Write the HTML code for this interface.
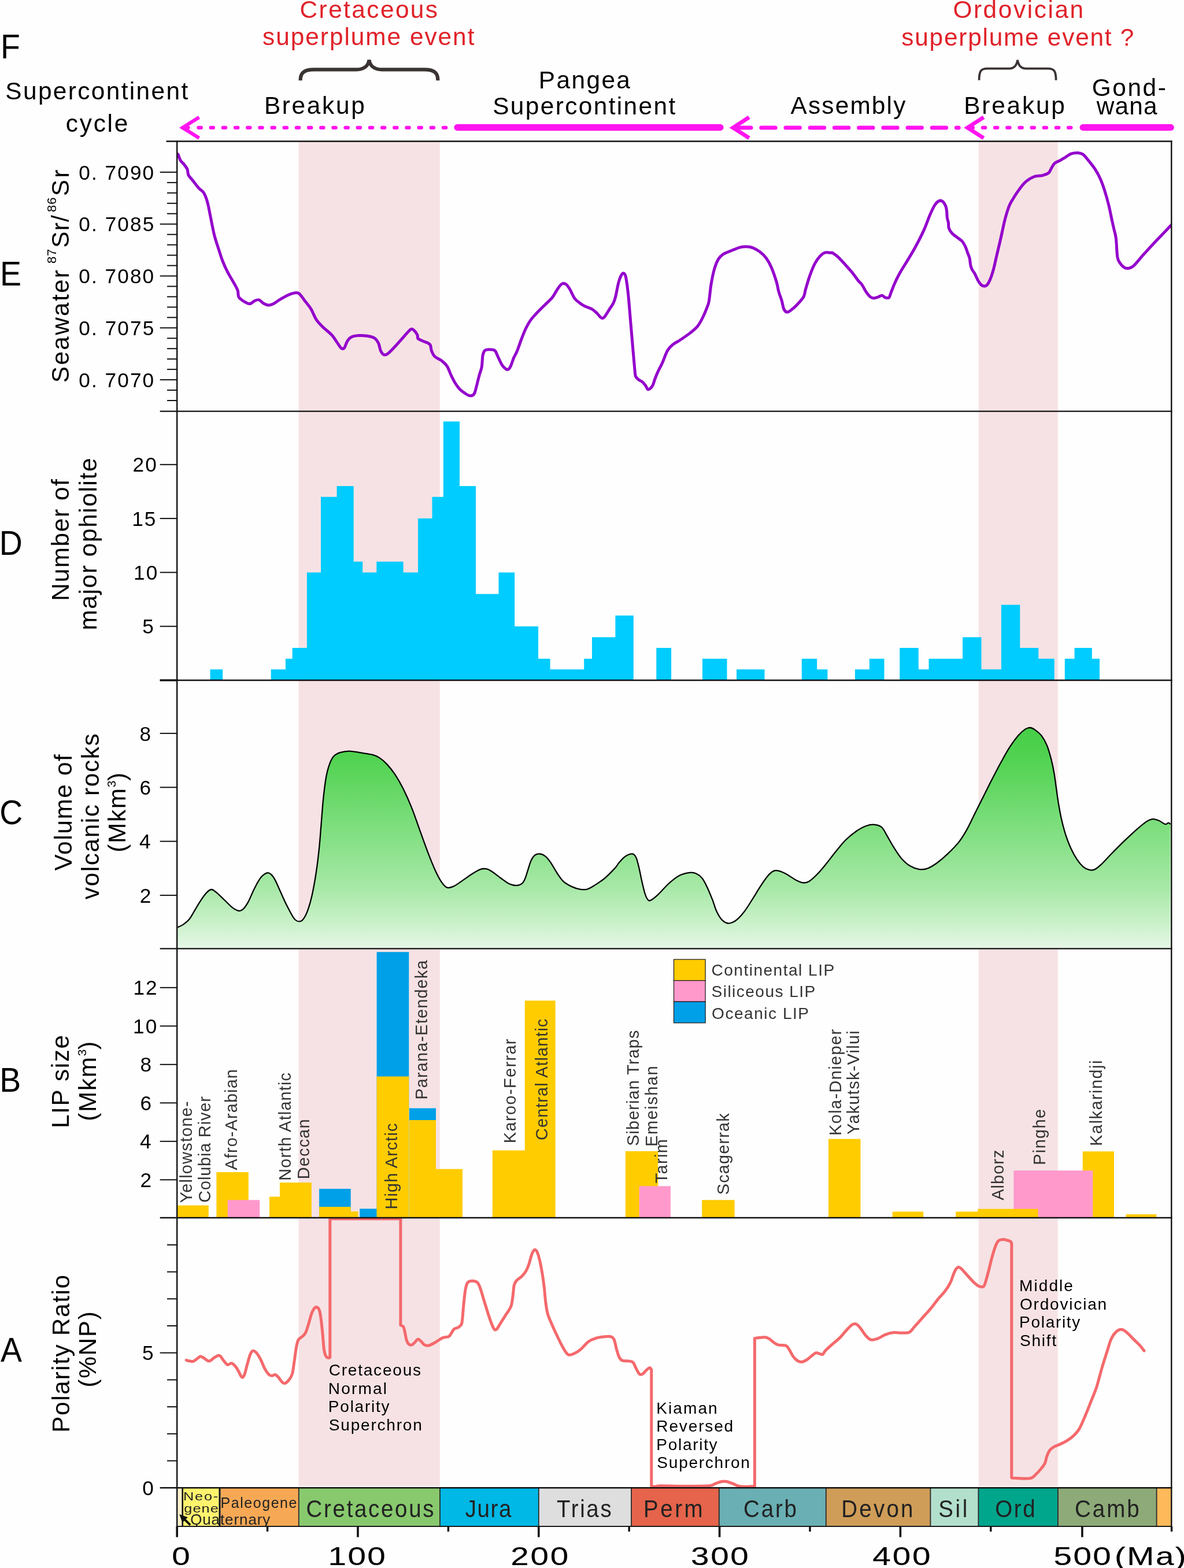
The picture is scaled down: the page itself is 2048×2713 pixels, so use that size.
<!DOCTYPE html>
<html lang="en">
<head>
<meta charset="utf-8">
<title>Supercontinent cycle and superplume events</title>
<style>
html,body{margin:0;padding:0;background:#fff;}
body{width:2048px;height:2713px;overflow:hidden;}
svg{display:block;font-family:'Liberation Sans', sans-serif;}
</style>
</head>
<body>
<svg width="2048" height="2713" viewBox="0 0 2048 2713">
<defs><linearGradient id="gv" gradientUnits="userSpaceOnUse" x1="0" y1="1258" x2="0" y2="1641"><stop offset="0" stop-color="#46ce46"/><stop offset="0.15" stop-color="#52d352"/><stop offset="0.5" stop-color="#85e085"/><stop offset="0.72" stop-color="#a6e8a6"/><stop offset="0.89" stop-color="#cbf1cb"/><stop offset="1" stop-color="#e6f7e6"/></linearGradient><clipPath id="pclip"><rect x="306.2" y="240" width="1720.1" height="2340"/></clipPath><clipPath id="tsclip"><rect x="300" y="2570" width="400" height="70.4"/></clipPath></defs>
<rect x="0" y="0" width="2048" height="2713" fill="#fefefe"/>
<rect x="516.4" y="244.5" width="244.4" height="2327" fill="#f6e2e4"/>
<rect x="1692.6" y="244.5" width="137.1" height="2327" fill="#f6e2e4"/>
<path d="M363.6,1177H385.2V1158.3H363.6ZM468.7,1177H493.9V1158.3H468.7ZM493.9,1177H505.7V1139.7H493.9ZM505.7,1177H530.9V1121H505.7ZM530.9,1177H555V990.4H530.9ZM555,1177H582.6V859.8H555ZM582.6,1177H611.7V841.1H582.6ZM611.7,1177H627.2V971.7H611.7ZM627.2,1177H651.3V990.4H627.2ZM651.3,1177H697.6V971.7H651.3ZM697.6,1177H723.1V990.4H697.6ZM723.1,1177H747.5V897.1H723.1ZM747.5,1177H766.9V859.8H747.5ZM766.9,1177H795V729.2H766.9ZM795,1177H823V841.1H795ZM823,1177H862.5V1027.7H823ZM862.5,1177H890.2V990.4H862.5ZM890.2,1177H931.1V1083.7H890.2ZM931.1,1177H951.6V1139.7H931.1ZM951.6,1177H1010.2V1158.3H951.6ZM1010.2,1177H1024.6V1139.7H1010.2ZM1024,1177H1064.4V1102.4H1024ZM1064.4,1177H1095.8V1065H1064.4ZM1135.3,1177H1161.1V1121H1135.3ZM1215,1177H1257.5V1139.7H1215ZM1274,1177H1322.5V1158.3H1274ZM1386.8,1177H1413.2V1139.7H1386.8ZM1413.2,1177H1431.4V1158.3H1413.2ZM1478.9,1177H1503.8V1158.3H1478.9ZM1503.8,1177H1529.5V1139.7H1503.8ZM1556.2,1177H1588.8V1121H1556.2ZM1588.8,1177H1606.5V1158.3H1588.8ZM1606.5,1177H1665.1V1139.7H1606.5ZM1665.1,1177H1697.5V1102.4H1665.1ZM1697.5,1177H1731.9V1158.3H1697.5ZM1731.9,1177H1764.3V1046.4H1731.9ZM1764.3,1177H1796.3V1121H1764.3ZM1796.3,1177H1823.8V1139.7H1796.3ZM1841.8,1177H1858.6V1139.7H1841.8ZM1858.6,1177H1888.8V1121H1858.6ZM1888.8,1177H1902V1139.7H1888.8Z" fill="#00ccff"/>
<path d="M307.2,1604.4C308.7,1603.7 312.9,1602.3 316.2,1600.1C319.5,1597.9 323.7,1595 326.9,1591.1C330.2,1587.2 332.6,1582.2 335.9,1576.8C339.2,1571.4 343.1,1564.2 346.7,1558.8C350.3,1553.4 354.3,1547.7 357.5,1544.4C360.7,1541.1 363.1,1539.2 365.7,1539C368.4,1538.9 369.9,1540.7 373.7,1543.7C377.4,1546.7 383.2,1552.5 388,1557C392.8,1561.5 398.2,1567.5 402.4,1570.7C406.6,1573.8 410.2,1575.6 413.2,1576C416.2,1576.5 417.7,1575.7 420.4,1573.2C423.1,1570.6 426,1566.6 429.3,1560.6C432.6,1554.6 436.5,1544.3 440.1,1537.2C443.7,1530.2 447.3,1523.1 450.9,1518.6C454.5,1514.1 458.7,1511.3 461.7,1510.3C464.7,1509.3 466.5,1510.7 468.9,1512.8C471.3,1514.9 473.4,1517.9 476,1522.9C478.7,1527.8 481.7,1535.4 485,1542.6C488.3,1549.8 491.8,1558.2 495.8,1566C499.8,1573.8 505.3,1584.9 509,1589.6C512.7,1594.3 515.3,1594.3 518,1594.3C520.7,1594.3 522.8,1592.8 525.1,1589.6C527.5,1586.4 529.9,1581.8 532.3,1575.2C534.7,1568.6 537.1,1560.8 539.5,1550.1C541.9,1539.3 544.6,1524.3 546.7,1510.5C548.8,1496.8 550.6,1481.8 552.1,1467.4C553.6,1453.1 554.5,1438.7 555.7,1424.3C556.9,1409.9 557.9,1394.4 559.3,1381.2C560.7,1368 562.2,1355.1 564,1345.3C565.7,1335.4 567.8,1328 570.1,1321.9C572.3,1315.8 574.3,1311.9 577.2,1308.6C580.2,1305.3 583.5,1303.7 588,1302.2C592.5,1300.7 598.5,1299.6 604.2,1299.6C609.9,1299.6 615.6,1301.1 622.2,1302.2C628.7,1303.2 638,1304.3 643.7,1305.7C649.4,1307.2 652.1,1308.4 656.3,1311.1C660.5,1313.8 664.4,1317.1 668.9,1321.9C673.4,1326.7 678.4,1332.7 683.2,1339.9C688,1347.1 692.8,1355.4 697.6,1365C702.4,1374.6 707.2,1385.4 712,1397.4C716.8,1409.3 721.6,1423.7 726.3,1436.9C731.1,1450.1 736.2,1464.7 740.7,1476.4C745.2,1488.1 749.4,1498.6 753.3,1506.9C757.2,1515.3 760.8,1521.9 764.1,1526.7C767.4,1531.5 769.8,1534.5 773.1,1535.7C776.3,1536.9 779.6,1535.7 783.8,1533.9C788,1532.1 792.8,1528.5 798.2,1524.9C803.6,1521.3 810.8,1515.7 816.2,1512.3C821.6,1508.9 826.3,1505.9 830.5,1504.4C834.7,1502.9 837.7,1502.6 841.3,1503.4C844.9,1504.1 847.9,1506 852.1,1508.7C856.3,1511.4 861.7,1516.1 866.5,1519.5C871.3,1522.9 876.3,1527.1 880.8,1529.2C885.3,1531.3 889.8,1532.1 893.4,1532.1C897,1532.1 900,1531 902.4,1529.2C904.8,1527.4 906,1525.3 907.8,1521.3C909.6,1517.3 911.4,1510.5 913.2,1505.1C915,1499.8 916.5,1493.3 918.6,1489C920.7,1484.7 923.1,1481.2 925.7,1479.3C928.4,1477.4 931.7,1477.1 934.7,1477.5C937.7,1477.9 940.7,1479.3 943.7,1481.8C946.7,1484.3 949.4,1487.8 952.7,1492.6C956,1497.4 959.9,1505.1 963.5,1510.5C967.1,1515.9 970.1,1521 974.3,1524.9C978.4,1528.8 983.8,1531.6 988.6,1533.9C993.4,1536.2 998.5,1537.8 1003,1538.6C1007.5,1539.3 1011.4,1539.6 1015.6,1538.6C1019.8,1537.5 1023.1,1535.3 1028.1,1532.1C1033.2,1528.9 1040.1,1524.6 1046.1,1519.5C1052.1,1514.4 1060,1506 1064.1,1501.6C1068.2,1497.1 1067.9,1495.9 1070.8,1492.6C1073.7,1489.3 1077.7,1484.3 1081.6,1481.8C1085.4,1479.3 1091,1477.2 1094.1,1477.5C1097.2,1477.8 1098.4,1479.9 1100.2,1483.6C1102,1487.3 1103.2,1492.9 1104.9,1499.8C1106.6,1506.6 1108.5,1517.1 1110.3,1524.9C1112.1,1532.7 1113.9,1541.1 1115.7,1546.5C1117.5,1551.9 1119.3,1555.4 1121.1,1557.2C1122.9,1559 1123.5,1558.9 1126.5,1557.2C1129.5,1555.6 1134,1552 1139,1547.2C1144.1,1542.4 1151,1533.9 1157,1528.5C1163,1523.1 1169,1518 1175,1514.9C1181,1511.7 1188.1,1510.4 1192.9,1509.8C1197.7,1509.2 1200.1,1509.6 1203.7,1511.3C1207.3,1512.9 1211.2,1515.4 1214.5,1519.5C1217.8,1523.6 1220.5,1529.4 1223.5,1535.7C1226.5,1542 1229.8,1550.4 1232.5,1557.2C1235.1,1564.1 1236.9,1571.3 1239.6,1577C1242.3,1582.7 1245.3,1588 1248.6,1591.4C1251.9,1594.8 1255.5,1597.2 1259.4,1597.5C1263.3,1597.8 1267.5,1596.3 1272,1593.2C1276.5,1590.1 1281.6,1584.8 1286.3,1578.8C1291.1,1572.8 1295.9,1564.7 1300.7,1557.2C1305.5,1549.8 1310.6,1540.8 1315.1,1533.9C1319.6,1527 1323.8,1520.4 1327.7,1515.9C1331.6,1511.4 1335.1,1508.4 1338.4,1506.9C1341.7,1505.4 1343.8,1506 1347.4,1506.9C1351,1507.8 1355.2,1509.8 1360,1512.3C1364.8,1514.9 1371.4,1519.9 1376.2,1522.4C1381,1524.9 1384.9,1527 1388.7,1527.4C1392.6,1527.8 1395.3,1527.4 1399.5,1524.9C1403.7,1522.4 1408.8,1517.6 1413.9,1512.3C1419,1507.1 1424.7,1499.9 1430.1,1493.3C1435.4,1486.7 1440.8,1479.4 1446.2,1472.8C1451.6,1466.2 1456.7,1459.5 1462.4,1453.8C1468.1,1448.1 1474.4,1442.8 1480.4,1438.7C1486.3,1434.6 1492.9,1431 1498.3,1429C1503.7,1427 1508.2,1426.4 1512.7,1426.8C1517.2,1427.2 1521.7,1428.3 1525.3,1431.5C1528.9,1434.7 1530.7,1439.9 1534.3,1445.9C1537.8,1451.9 1542.6,1460.8 1546.8,1467.4C1551,1474 1554.9,1480.3 1559.4,1485.4C1563.9,1490.5 1568.7,1494.9 1573.8,1498C1578.9,1501.1 1584.9,1503.3 1589.9,1504.1C1595,1504.9 1599.2,1504.4 1604.3,1502.6C1609.4,1500.8 1614.8,1497.4 1620.5,1493.3C1626.2,1489.2 1632.2,1484.2 1638.4,1478.2C1644.7,1472.2 1652.5,1464.6 1658.2,1457.4C1663.9,1450.2 1667.8,1443.6 1672.6,1435.1C1677.3,1426.6 1682.1,1415.9 1686.9,1406.3C1691.7,1396.8 1696.5,1387.2 1701.3,1377.6C1706.1,1368 1710.6,1358.7 1715.7,1348.9C1720.8,1339 1726.7,1327.6 1731.8,1318.3C1736.9,1309 1741.4,1300.7 1746.2,1293.2C1751,1285.7 1756.1,1278.6 1760.6,1273.4C1765.1,1268.2 1769.6,1264.3 1773.1,1261.9C1776.7,1259.5 1779.1,1258.8 1782.1,1259C1785.1,1259.3 1787.8,1261 1791.1,1263.4C1794.4,1265.7 1798.6,1269 1801.9,1273.4C1805.2,1277.8 1808.2,1283 1810.9,1289.6C1813.6,1296.2 1816,1304.9 1818.1,1312.9C1820.2,1321 1822,1329.7 1823.4,1338.1C1824.9,1346.5 1825.8,1354.9 1827,1363.2C1828.2,1371.6 1829.1,1379.4 1830.6,1388.4C1832.1,1397.4 1833.9,1407.8 1836,1417.1C1838.1,1426.4 1840.5,1435.7 1843.2,1444.1C1845.9,1452.5 1848.9,1460.2 1852.2,1467.4C1855.5,1474.6 1859.4,1481.8 1863,1487.2C1866.6,1492.6 1870.2,1496.8 1873.7,1499.8C1877.3,1502.8 1881.2,1504.4 1884.5,1505.1C1887.8,1505.9 1890.2,1505.9 1893.5,1504.4C1896.8,1502.9 1899.5,1500.7 1904.3,1496.2C1909.1,1491.7 1915.7,1484.2 1922.3,1477.5C1928.8,1470.8 1936.6,1462.9 1943.8,1455.9C1951,1449 1958.8,1441.6 1965.4,1435.8C1972,1430.1 1978.5,1424.6 1983.3,1421.4C1988.1,1418.3 1990.5,1417.4 1994.1,1417.1C1997.7,1416.9 2001.3,1418.5 2004.9,1420C2008.5,1421.5 2013,1425.5 2015.7,1426.1C2018.4,1426.7 2019.6,1423.6 2021.1,1423.6C2022.6,1423.6 2024,1425.7 2024.6,1426.1L2024.6,1641.3L307.2,1641.3Z" fill="url(#gv)"/>
<path d="M307.2,1604.4C308.7,1603.7 312.9,1602.3 316.2,1600.1C319.5,1597.9 323.7,1595 326.9,1591.1C330.2,1587.2 332.6,1582.2 335.9,1576.8C339.2,1571.4 343.1,1564.2 346.7,1558.8C350.3,1553.4 354.3,1547.7 357.5,1544.4C360.7,1541.1 363.1,1539.2 365.7,1539C368.4,1538.9 369.9,1540.7 373.7,1543.7C377.4,1546.7 383.2,1552.5 388,1557C392.8,1561.5 398.2,1567.5 402.4,1570.7C406.6,1573.8 410.2,1575.6 413.2,1576C416.2,1576.5 417.7,1575.7 420.4,1573.2C423.1,1570.6 426,1566.6 429.3,1560.6C432.6,1554.6 436.5,1544.3 440.1,1537.2C443.7,1530.2 447.3,1523.1 450.9,1518.6C454.5,1514.1 458.7,1511.3 461.7,1510.3C464.7,1509.3 466.5,1510.7 468.9,1512.8C471.3,1514.9 473.4,1517.9 476,1522.9C478.7,1527.8 481.7,1535.4 485,1542.6C488.3,1549.8 491.8,1558.2 495.8,1566C499.8,1573.8 505.3,1584.9 509,1589.6C512.7,1594.3 515.3,1594.3 518,1594.3C520.7,1594.3 522.8,1592.8 525.1,1589.6C527.5,1586.4 529.9,1581.8 532.3,1575.2C534.7,1568.6 537.1,1560.8 539.5,1550.1C541.9,1539.3 544.6,1524.3 546.7,1510.5C548.8,1496.8 550.6,1481.8 552.1,1467.4C553.6,1453.1 554.5,1438.7 555.7,1424.3C556.9,1409.9 557.9,1394.4 559.3,1381.2C560.7,1368 562.2,1355.1 564,1345.3C565.7,1335.4 567.8,1328 570.1,1321.9C572.3,1315.8 574.3,1311.9 577.2,1308.6C580.2,1305.3 583.5,1303.7 588,1302.2C592.5,1300.7 598.5,1299.6 604.2,1299.6C609.9,1299.6 615.6,1301.1 622.2,1302.2C628.7,1303.2 638,1304.3 643.7,1305.7C649.4,1307.2 652.1,1308.4 656.3,1311.1C660.5,1313.8 664.4,1317.1 668.9,1321.9C673.4,1326.7 678.4,1332.7 683.2,1339.9C688,1347.1 692.8,1355.4 697.6,1365C702.4,1374.6 707.2,1385.4 712,1397.4C716.8,1409.3 721.6,1423.7 726.3,1436.9C731.1,1450.1 736.2,1464.7 740.7,1476.4C745.2,1488.1 749.4,1498.6 753.3,1506.9C757.2,1515.3 760.8,1521.9 764.1,1526.7C767.4,1531.5 769.8,1534.5 773.1,1535.7C776.3,1536.9 779.6,1535.7 783.8,1533.9C788,1532.1 792.8,1528.5 798.2,1524.9C803.6,1521.3 810.8,1515.7 816.2,1512.3C821.6,1508.9 826.3,1505.9 830.5,1504.4C834.7,1502.9 837.7,1502.6 841.3,1503.4C844.9,1504.1 847.9,1506 852.1,1508.7C856.3,1511.4 861.7,1516.1 866.5,1519.5C871.3,1522.9 876.3,1527.1 880.8,1529.2C885.3,1531.3 889.8,1532.1 893.4,1532.1C897,1532.1 900,1531 902.4,1529.2C904.8,1527.4 906,1525.3 907.8,1521.3C909.6,1517.3 911.4,1510.5 913.2,1505.1C915,1499.8 916.5,1493.3 918.6,1489C920.7,1484.7 923.1,1481.2 925.7,1479.3C928.4,1477.4 931.7,1477.1 934.7,1477.5C937.7,1477.9 940.7,1479.3 943.7,1481.8C946.7,1484.3 949.4,1487.8 952.7,1492.6C956,1497.4 959.9,1505.1 963.5,1510.5C967.1,1515.9 970.1,1521 974.3,1524.9C978.4,1528.8 983.8,1531.6 988.6,1533.9C993.4,1536.2 998.5,1537.8 1003,1538.6C1007.5,1539.3 1011.4,1539.6 1015.6,1538.6C1019.8,1537.5 1023.1,1535.3 1028.1,1532.1C1033.2,1528.9 1040.1,1524.6 1046.1,1519.5C1052.1,1514.4 1060,1506 1064.1,1501.6C1068.2,1497.1 1067.9,1495.9 1070.8,1492.6C1073.7,1489.3 1077.7,1484.3 1081.6,1481.8C1085.4,1479.3 1091,1477.2 1094.1,1477.5C1097.2,1477.8 1098.4,1479.9 1100.2,1483.6C1102,1487.3 1103.2,1492.9 1104.9,1499.8C1106.6,1506.6 1108.5,1517.1 1110.3,1524.9C1112.1,1532.7 1113.9,1541.1 1115.7,1546.5C1117.5,1551.9 1119.3,1555.4 1121.1,1557.2C1122.9,1559 1123.5,1558.9 1126.5,1557.2C1129.5,1555.6 1134,1552 1139,1547.2C1144.1,1542.4 1151,1533.9 1157,1528.5C1163,1523.1 1169,1518 1175,1514.9C1181,1511.7 1188.1,1510.4 1192.9,1509.8C1197.7,1509.2 1200.1,1509.6 1203.7,1511.3C1207.3,1512.9 1211.2,1515.4 1214.5,1519.5C1217.8,1523.6 1220.5,1529.4 1223.5,1535.7C1226.5,1542 1229.8,1550.4 1232.5,1557.2C1235.1,1564.1 1236.9,1571.3 1239.6,1577C1242.3,1582.7 1245.3,1588 1248.6,1591.4C1251.9,1594.8 1255.5,1597.2 1259.4,1597.5C1263.3,1597.8 1267.5,1596.3 1272,1593.2C1276.5,1590.1 1281.6,1584.8 1286.3,1578.8C1291.1,1572.8 1295.9,1564.7 1300.7,1557.2C1305.5,1549.8 1310.6,1540.8 1315.1,1533.9C1319.6,1527 1323.8,1520.4 1327.7,1515.9C1331.6,1511.4 1335.1,1508.4 1338.4,1506.9C1341.7,1505.4 1343.8,1506 1347.4,1506.9C1351,1507.8 1355.2,1509.8 1360,1512.3C1364.8,1514.9 1371.4,1519.9 1376.2,1522.4C1381,1524.9 1384.9,1527 1388.7,1527.4C1392.6,1527.8 1395.3,1527.4 1399.5,1524.9C1403.7,1522.4 1408.8,1517.6 1413.9,1512.3C1419,1507.1 1424.7,1499.9 1430.1,1493.3C1435.4,1486.7 1440.8,1479.4 1446.2,1472.8C1451.6,1466.2 1456.7,1459.5 1462.4,1453.8C1468.1,1448.1 1474.4,1442.8 1480.4,1438.7C1486.3,1434.6 1492.9,1431 1498.3,1429C1503.7,1427 1508.2,1426.4 1512.7,1426.8C1517.2,1427.2 1521.7,1428.3 1525.3,1431.5C1528.9,1434.7 1530.7,1439.9 1534.3,1445.9C1537.8,1451.9 1542.6,1460.8 1546.8,1467.4C1551,1474 1554.9,1480.3 1559.4,1485.4C1563.9,1490.5 1568.7,1494.9 1573.8,1498C1578.9,1501.1 1584.9,1503.3 1589.9,1504.1C1595,1504.9 1599.2,1504.4 1604.3,1502.6C1609.4,1500.8 1614.8,1497.4 1620.5,1493.3C1626.2,1489.2 1632.2,1484.2 1638.4,1478.2C1644.7,1472.2 1652.5,1464.6 1658.2,1457.4C1663.9,1450.2 1667.8,1443.6 1672.6,1435.1C1677.3,1426.6 1682.1,1415.9 1686.9,1406.3C1691.7,1396.8 1696.5,1387.2 1701.3,1377.6C1706.1,1368 1710.6,1358.7 1715.7,1348.9C1720.8,1339 1726.7,1327.6 1731.8,1318.3C1736.9,1309 1741.4,1300.7 1746.2,1293.2C1751,1285.7 1756.1,1278.6 1760.6,1273.4C1765.1,1268.2 1769.6,1264.3 1773.1,1261.9C1776.7,1259.5 1779.1,1258.8 1782.1,1259C1785.1,1259.3 1787.8,1261 1791.1,1263.4C1794.4,1265.7 1798.6,1269 1801.9,1273.4C1805.2,1277.8 1808.2,1283 1810.9,1289.6C1813.6,1296.2 1816,1304.9 1818.1,1312.9C1820.2,1321 1822,1329.7 1823.4,1338.1C1824.9,1346.5 1825.8,1354.9 1827,1363.2C1828.2,1371.6 1829.1,1379.4 1830.6,1388.4C1832.1,1397.4 1833.9,1407.8 1836,1417.1C1838.1,1426.4 1840.5,1435.7 1843.2,1444.1C1845.9,1452.5 1848.9,1460.2 1852.2,1467.4C1855.5,1474.6 1859.4,1481.8 1863,1487.2C1866.6,1492.6 1870.2,1496.8 1873.7,1499.8C1877.3,1502.8 1881.2,1504.4 1884.5,1505.1C1887.8,1505.9 1890.2,1505.9 1893.5,1504.4C1896.8,1502.9 1899.5,1500.7 1904.3,1496.2C1909.1,1491.7 1915.7,1484.2 1922.3,1477.5C1928.8,1470.8 1936.6,1462.9 1943.8,1455.9C1951,1449 1958.8,1441.6 1965.4,1435.8C1972,1430.1 1978.5,1424.6 1983.3,1421.4C1988.1,1418.3 1990.5,1417.4 1994.1,1417.1C1997.7,1416.9 2001.3,1418.5 2004.9,1420C2008.5,1421.5 2013,1425.5 2015.7,1426.1C2018.4,1426.7 2019.6,1423.6 2021.1,1423.6C2022.6,1423.6 2024,1425.7 2024.6,1426.1" fill="none" stroke="#000" stroke-width="2.3" stroke-linejoin="round"/>
<path d="M308,266.9C308.7,268.7 310.5,274.7 312.3,277.7C314.1,280.7 316.8,282.3 318.7,284.9C320.7,287.5 322.9,290.2 324.1,293.2C325.3,296.2 324.4,299.8 325.9,302.9C327.4,306 330.1,308.1 333.1,311.9C336.1,315.6 340.8,322 343.9,325.5C347,329 349.7,329.9 351.8,332.7C353.9,335.5 355.1,338.7 356.5,342.4C357.8,346.1 358.9,349.9 360.1,355C361.3,360.1 361.9,364.3 363.7,372.9C365.4,381.6 368.4,397.5 370.8,407.1C373.2,416.6 375.6,422.9 378,430.4C380.4,437.9 382.5,445.1 385.2,452C387.9,458.9 391.2,465.9 394.2,471.7C397.2,477.6 400.4,482.1 403.2,487.2C406,492.3 409.5,497.8 411.1,502.3C412.7,506.7 411.2,510.7 412.9,513.8C414.6,516.9 418,519 421.1,521C424.3,522.9 428.6,525.7 431.9,525.6C435.2,525.5 438.2,521.4 440.9,520.2C443.6,519.1 445.7,518.1 448.1,518.8C450.5,519.5 452.6,523 455.3,524.6C458,526.1 461.3,528 464.3,528.1C467.2,528.3 469.9,527.2 473.2,525.6C476.5,524 479.8,521 484,518.4C488.2,515.9 494.2,512.5 498.4,510.5C502.6,508.6 506,507.4 509.2,506.9C512.3,506.5 514.1,505.4 517.1,507.7C520.1,509.9 523.7,515.7 527.1,520.2C530.6,524.7 534.6,529.2 537.9,534.6C541.2,540 543.6,547.5 546.9,552.6C550.2,557.7 553.2,560.7 557.7,565.1C562.2,569.6 569.6,575 573.8,579.5C578,584 580.1,588.3 582.8,592.1C585.5,595.9 587.9,600.5 590,602.2C592.1,603.8 593.6,604.1 595.4,602.2C597.2,600.2 598.7,593.5 600.8,590.3C602.9,587.1 604.7,584.7 608,583.1C611.3,581.5 616,580.9 620.5,580.6C625,580.3 630.4,580.6 634.9,581.3C639.4,582 644.2,582.8 647.5,584.9C650.8,587 652.9,590.3 654.7,593.9C656.5,597.5 656.8,603.2 658.3,606.5C659.8,609.8 661.6,612.8 663.7,613.7C665.7,614.6 667.2,614.6 670.8,611.9C674.4,609.2 680.4,602.6 685.2,597.5C690,592.4 695.4,585.9 699.6,581.3C703.8,576.7 707.7,571.5 710.4,569.8C713.1,568.1 713.8,569.6 715.7,571.3C717.7,572.9 720.7,577.1 721.9,579.5C723.1,581.9 721.6,584 722.9,585.6C724.3,587.3 726.7,587.9 730.1,589.6C733.5,591.3 740.7,592.9 743.4,595.7C746.1,598.5 744.9,603 746.3,606.5C747.7,609.9 748.7,613.5 751.7,616.5C754.7,619.5 760.7,621.6 764.3,624.4C767.8,627.2 770.5,629.2 773.2,633.4C775.9,637.6 778,644.6 780.4,649.6C782.8,654.6 785.2,659.3 787.6,663.2C790,667.1 792.1,670.1 794.8,672.9C797.5,675.7 800.8,678.1 803.8,680.1C806.8,682.1 810.1,684.5 812.8,684.8C815.4,685.1 818.1,684.2 819.9,681.9C821.7,679.6 822,676.5 823.5,671.1C825,665.7 827.3,655.6 828.9,649.6C830.5,643.6 832.2,640.9 833.2,635.2C834.3,629.5 834.1,620.2 835,615.4C835.9,610.7 836.9,608.3 838.6,606.5C840.3,604.7 842.2,604.7 845.1,604.7C848,604.7 853.2,604.4 855.9,606.5C858.6,608.6 859.2,613.1 861.3,617.2C863.4,621.4 866,628 868.4,631.6C870.8,635.2 873.7,637.6 875.6,638.8C877.5,640 878.5,639.7 879.8,638.8C881,637.9 881.9,636.7 883.4,633.4C884.9,630.1 886.9,623.2 888.7,619C890.5,614.9 892,613.4 894.1,608.3C896.2,603.2 898.9,594.8 901.3,588.5C903.7,582.2 905.8,576.2 908.5,570.5C911.2,564.9 914.2,559.2 917.5,554.4C920.8,549.6 924.1,546.3 928.3,541.8C932.5,537.3 938.1,531.9 942.6,527.4C947.1,522.9 951.6,519.3 955.2,514.9C958.8,510.4 961.5,504.4 964.2,500.5C966.9,496.6 969,493 971.4,491.5C973.8,490 976.2,490 978.6,491.5C981,493 983.2,496.4 985.7,500.5C988.3,504.6 990.7,511.9 993.7,515.9C996.6,520 1000.5,522.5 1003.7,524.9C1006.9,527.3 1009.4,528.7 1012.7,530.3C1016,531.9 1020.2,532.7 1023.5,534.6C1026.8,536.5 1029.8,539.3 1032.5,541.8C1035.1,544.3 1037.5,548.5 1039.6,549.7C1041.7,550.9 1042.6,551.4 1045,549C1047.4,546.6 1051.3,539.5 1054,535.3C1056.7,531.1 1059.4,527.5 1061.2,523.8C1063,520.1 1063.3,519 1064.8,513.1C1066.3,507.1 1068.4,494.3 1070.2,487.9C1072,481.5 1074,477 1075.6,474.6C1077.2,472.2 1078.7,472.5 1079.9,473.5C1081.1,474.6 1081.7,475.3 1082.8,480.7C1083.8,486.1 1085,493.3 1086.3,505.9C1087.7,518.4 1089.2,538.8 1090.7,556.2C1092.2,573.5 1094.1,595.7 1095.3,610.1C1096.6,624.4 1097.5,635.5 1098.2,642.4C1098.9,649.3 1098.6,649 1099.6,651.4C1100.7,653.8 1102.3,655.1 1104.3,656.8C1106.3,658.4 1109.4,659.3 1111.5,661.1C1113.6,662.9 1115.4,665.4 1116.9,667.5C1118.4,669.6 1119,673.1 1120.5,673.7C1122,674.3 1124.4,672.5 1125.9,671.1C1127.4,669.8 1128.3,668.4 1129.5,665.7C1130.7,663.1 1131.6,658.9 1133.1,655C1134.6,651.1 1136.3,646.9 1138.4,642.4C1140.5,637.9 1142.9,634 1145.6,628C1148.3,622 1151.6,611.7 1154.6,606.5C1157.6,601.2 1160,599.4 1163.6,596.4C1167.2,593.4 1171.1,591.9 1176.2,588.5C1181.3,585.1 1189,579.9 1194.1,575.9C1199.2,571.9 1203.1,568.9 1206.7,564.4C1210.3,559.9 1212.9,554.7 1215.7,549C1218.5,543.3 1221.8,535.1 1223.6,530.3C1225.4,525.5 1225.4,526.7 1226.5,520.2C1227.5,513.8 1228.6,500.5 1230.1,491.5C1231.6,482.5 1233.4,473.5 1235.4,466.3C1237.5,459.2 1239.9,452.9 1242.6,448.4C1245.3,443.9 1247.7,441.9 1251.6,439.4C1255.5,436.9 1261.2,435.2 1266,433.3C1270.8,431.4 1276.2,429 1280.4,427.9C1284.6,426.8 1287.5,426.7 1291.1,426.8C1294.7,426.9 1298,427.1 1301.9,428.6C1305.8,430.1 1310.6,432.8 1314.5,435.8C1318.4,438.8 1322,442.1 1325.3,446.6C1328.6,451.1 1331.3,455.9 1334.3,462.8C1337.2,469.6 1341.1,481 1343.2,487.9C1345.3,494.8 1345.3,498.7 1346.8,504.1C1348.3,509.5 1350.7,515.1 1352.2,520.2C1353.7,525.3 1354.3,531.3 1355.8,534.6C1357.3,537.9 1359.1,539.7 1361.2,540C1363.3,540.3 1365.4,538.6 1368.4,536.4C1371.4,534.2 1375.6,530.5 1379.2,526.7C1382.8,522.9 1387.5,518.1 1389.9,513.8C1392.3,509.4 1391.7,506.6 1393.5,500.5C1395.3,494.4 1398,484.6 1400.7,477.1C1403.4,469.6 1406.7,461.3 1409.7,455.6C1412.7,449.9 1415.7,446.1 1418.7,443C1421.7,439.9 1424.4,437.8 1427.7,436.9C1431,436 1436.4,437.5 1438.4,437.6C1440.5,437.7 1438.2,436.5 1440,437.6C1441.8,438.7 1445.4,440.8 1449,444.1C1452.6,447.4 1457.4,452.8 1461.6,457.4C1465.7,462 1470.2,466.9 1474.1,471.7C1478,476.5 1482.1,482.6 1484.9,486.1C1487.7,489.6 1488.9,489.6 1491,492.6C1493.1,495.6 1495.2,500.7 1497.5,504.1C1499.8,507.5 1502.5,511.1 1504.7,513.1C1506.9,515 1508.4,515.8 1510.8,515.9C1513.2,516 1516.6,514.6 1519,513.8C1521.5,513 1523.4,511.1 1525.5,511.3C1527.6,511.4 1529.6,514.3 1531.6,514.9C1533.7,515.4 1536.1,516.3 1537.7,514.9C1539.3,513.4 1539.6,510.1 1541.3,505.9C1543,501.7 1545.2,495.4 1547.8,489.7C1550.4,484 1552.9,478.6 1556.8,471.7C1560.7,464.9 1566.6,455.9 1571.1,448.4C1575.6,440.9 1579.2,435.2 1583.7,426.8C1588.2,418.4 1593.9,407.4 1598.1,398.1C1602.3,388.8 1605.7,378.3 1608.9,371.1C1612,364 1614.3,358.9 1616.8,355C1619.3,351.1 1621.7,348.9 1624,347.8C1626.2,346.7 1628.4,347 1630.4,348.5C1632.4,350 1634.6,353.9 1635.8,356.8C1637,359.6 1637.2,362.5 1637.6,365.7C1638,369 1637.8,373.2 1638.3,376.5C1638.8,379.8 1640,382.5 1640.5,385.5C1641,388.5 1640.2,391.5 1641.2,394.5C1642.2,397.5 1644.2,400.8 1646.6,403.5C1649,406.2 1652.6,408.3 1655.6,410.7C1658.6,413.1 1662.2,415.1 1664.6,417.8C1666.9,420.5 1668.4,423.7 1669.9,426.8C1671.4,430 1672.3,433.6 1673.5,436.9C1674.7,440.2 1676.2,442.9 1677.1,446.6C1678,450.3 1678.2,455.9 1678.9,459.2C1679.6,462.5 1680.2,464 1681.4,466.3C1682.6,468.7 1684.4,470.4 1686.1,473.5C1687.8,476.6 1689.7,481.9 1691.5,485C1693.3,488.2 1695.1,490.9 1696.9,492.6C1698.7,494.3 1700.5,495.1 1702.3,495.1C1704.1,495.1 1705.9,494.7 1707.7,492.6C1709.5,490.5 1711.3,486.9 1713.1,482.5C1714.9,478.1 1716.6,472.9 1718.4,466.3C1720.2,459.8 1721.7,452 1723.8,443C1725.9,434 1728.6,422.9 1731,412.5C1733.4,402 1735.8,389.4 1738.2,380.1C1740.6,370.8 1743,362.9 1745.4,356.8C1747.8,350.7 1749.6,348.4 1752.6,343.5C1755.6,338.6 1759.8,332.1 1763.4,327.3C1766.9,322.5 1769.9,318.3 1774.1,314.7C1778.3,311.1 1783.7,307.6 1788.5,305.7C1793.3,303.9 1798.7,304.7 1802.9,303.6C1807.1,302.5 1811,301.5 1813.7,299.3C1816.3,297.1 1817.2,293.1 1819,290.3C1820.8,287.5 1822,284.5 1824.4,282.4C1826.8,280.3 1830.4,279.4 1833.4,277.7C1836.4,276 1839.1,274.3 1842.4,272.3C1845.7,270.4 1849.6,267.2 1853.2,265.9C1856.8,264.6 1860.7,264.3 1864,264.4C1867.2,264.6 1869.6,264.6 1872.9,266.9C1876.2,269.3 1880.1,274.4 1883.7,278.8C1887.3,283.2 1891.2,288 1894.5,293.2C1897.8,298.4 1900.8,304 1903.5,310.1C1906.2,316.2 1908.3,322.3 1910.7,329.8C1913.1,337.3 1915.7,346.6 1917.8,355C1919.9,363.4 1921.7,373.2 1923.2,380.1C1924.7,387 1925.6,390.9 1926.8,396.3C1928,401.7 1929.4,404.4 1930.4,412.5C1931.4,420.5 1931.7,437.6 1932.9,444.8C1934.1,452 1935.6,452.6 1937.6,455.6C1939.6,458.6 1942.4,461.3 1944.8,462.8C1947.2,464.2 1949.3,464.7 1952,464.2C1954.7,463.7 1956.5,464 1961,459.9C1965.4,455.7 1972.3,446.7 1978.9,439.4C1985.5,432.1 1992.6,424.4 2000.5,416C2008.4,407.7 2022,393.6 2026.3,389.1" fill="none" stroke="#9400cc" stroke-width="5" stroke-linejoin="round" stroke-linecap="round" clip-path="url(#pclip)"/>
<rect x="307.2" y="2085.6" width="53.6" height="21.4" fill="#ffcc00"/>
<rect x="374.4" y="2028.1" width="55.4" height="78.9" fill="#ffcc00"/>
<rect x="393.8" y="2076.3" width="55.4" height="30.7" fill="#ff99cc"/>
<rect x="466" y="2070.5" width="18.5" height="36.5" fill="#ffcc00"/>
<rect x="484" y="2046.1" width="54.9" height="60.9" fill="#ffcc00"/>
<rect x="552.1" y="2056.9" width="54.6" height="50.1" fill="#00a0e8"/>
<rect x="552.1" y="2088.1" width="54.6" height="18.9" fill="#ffcc00"/>
<rect x="606" y="2096" width="13.3" height="11" fill="#ffcc00"/>
<rect x="622.2" y="2091.4" width="29.6" height="15.6" fill="#00a0e8"/>
<rect x="651.6" y="1647.2" width="55.7" height="459.8" fill="#00a0e8"/>
<rect x="651.6" y="1862.5" width="55.7" height="244.5" fill="#ffcc00"/>
<rect x="708" y="1917.5" width="46" height="189.5" fill="#00a0e8"/>
<rect x="708" y="1938" width="46" height="169" fill="#ffcc00"/>
<rect x="753.5" y="2022.7" width="46.5" height="84.3" fill="#ffcc00"/>
<rect x="851.8" y="1990.4" width="56.2" height="116.6" fill="#ffcc00"/>
<rect x="907.8" y="1731.3" width="52.9" height="375.7" fill="#ffcc00"/>
<rect x="1081.9" y="1991.8" width="56.4" height="115.2" fill="#ffcc00"/>
<rect x="1105.6" y="2052.2" width="54.3" height="54.8" fill="#ff99cc"/>
<rect x="1214.2" y="2076.3" width="56.4" height="30.7" fill="#ffcc00"/>
<rect x="1433" y="1970.6" width="55.5" height="136.4" fill="#ffcc00"/>
<rect x="1543.7" y="2096.4" width="53.5" height="10.6" fill="#ffcc00"/>
<rect x="1653.2" y="2096.4" width="53.5" height="10.6" fill="#ffcc00"/>
<rect x="1872.7" y="1992.2" width="54.3" height="114.8" fill="#ffcc00"/>
<rect x="1753.4" y="2025.3" width="136.9" height="81.7" fill="#ff99cc"/>
<rect x="1691.3" y="2091.7" width="104.2" height="15.3" fill="#ffcc00"/>
<rect x="1947.5" y="2101" width="52.8" height="6" fill="#ffcc00"/>
<rect x="1165.5" y="1660" width="54.6" height="36.6" fill="#ffcc00" stroke="#222" stroke-width="1.3"/>
<rect x="1165.5" y="1696.6" width="54.6" height="36.6" fill="#ff99cc" stroke="#222" stroke-width="1.3"/>
<rect x="1165.5" y="1733.2" width="54.6" height="36.6" fill="#00a0e8" stroke="#222" stroke-width="1.3"/>
<path d="M322.3,2353.4C323.4,2353.7 326.6,2354.9 328.7,2355.1C330.8,2355.4 332.8,2355.9 334.9,2355.1C336.9,2354.4 339.3,2351.9 341.3,2350.5C343.3,2349.1 344.9,2347.1 346.7,2346.9C348.5,2346.7 350,2348.1 352.1,2349.4C354.2,2350.7 357.4,2353.6 359.3,2354.4C361.2,2355.3 361.8,2355.3 363.6,2354.4C365.4,2353.6 367.8,2350.9 370.1,2349.4C372.3,2347.9 375.3,2345.9 377.2,2345.4C379.2,2345 380.1,2345.6 381.6,2346.9C383.1,2348.2 384.3,2351 386.2,2353.4C388.2,2355.7 391,2360.4 393.4,2361.3C395.8,2362.2 398.2,2358.1 400.6,2358.7C403,2359.3 405.7,2362.3 407.8,2364.9C409.9,2367.4 411.7,2371.1 413.2,2373.8C414.7,2376.5 415.7,2379.5 416.8,2381C417.8,2382.6 418.6,2383.8 419.6,2383.2C420.7,2382.6 421.9,2381.1 423.2,2377.4C424.6,2373.8 425.9,2366.9 427.5,2361.3C429.2,2355.6 431.3,2347.3 432.9,2343.3C434.6,2339.3 435.8,2337.6 437.6,2337.2C439.4,2336.8 441.5,2338.3 443.7,2340.8C445.9,2343.3 448.5,2347.7 450.9,2352.3C453.3,2356.9 455.7,2364.1 458.1,2368.4C460.5,2372.8 463.2,2376.5 465.3,2378.5C467.4,2380.5 468.9,2380.3 470.7,2380.3C472.5,2380.3 474.3,2378.1 476,2378.5C477.8,2378.9 479.6,2380.9 481.4,2382.8C483.2,2384.7 485,2388.2 486.8,2390C488.6,2391.8 490.1,2393.9 492.2,2393.6C494.3,2393.3 497.2,2390.9 499.4,2388.2C501.6,2385.5 503.8,2382.8 505.4,2377.4C507,2372 507.8,2363.7 509,2355.9C510.2,2348.1 511.4,2337 512.6,2330.7C513.8,2324.4 514.4,2321.3 516.2,2318.1C518,2315 521.3,2314.1 523.4,2312C525.4,2309.9 526.9,2309.3 528.7,2305.6C530.5,2301.8 532.3,2295.1 534.1,2289.4C535.9,2283.7 537.7,2275.9 539.5,2271.4C541.3,2266.9 543.1,2263.8 544.9,2262.5C546.7,2261.1 548.8,2261.4 550.3,2263.2C551.8,2265 552.7,2266.8 553.9,2273.2C555.1,2279.7 556.4,2291.8 557.5,2302C558.6,2312.2 559.3,2326.8 560.4,2334.3C561.4,2341.8 562.6,2344.4 564,2346.9C565.3,2349.4 567.1,2349.1 568.3,2349.4C569.4,2349.7 570.4,2348.8 570.8,2348.7L570.8,2108.7L692.9,2108.7L692.9,2293C693.7,2293.4 696.3,2293.4 697.6,2295.5C698.9,2297.6 699.6,2301.8 700.5,2305.6C701.4,2309.3 702,2314.9 703,2318.1C704,2321.4 705.1,2323.8 706.6,2325.3C708.1,2326.8 710.2,2327.5 712,2327.1C713.8,2326.7 715.6,2324.5 717.4,2322.8C719.2,2321.1 721,2317.4 722.8,2317.1C724.6,2316.7 726.3,2319.1 728.1,2320.7C729.9,2322.2 731.4,2325.1 733.5,2326.4C735.6,2327.7 737.7,2328.7 740.7,2328.2C743.7,2327.7 747.3,2325.8 751.5,2323.5C755.7,2321.3 761.8,2316.3 765.9,2314.6C769.9,2312.8 773.5,2314 775.9,2312.8C778.3,2311.6 778.6,2309.6 780.2,2307.4C781.9,2305.1 783.5,2301.3 785.6,2299.5C787.7,2297.7 790.7,2298 792.8,2296.6C794.9,2295.2 797,2293.9 798.2,2291.2C799.4,2288.5 799.4,2285.8 800,2280.4C800.6,2275 801,2266.6 801.8,2258.9C802.6,2251.1 803.6,2240.2 804.7,2233.7C805.7,2227.2 806.6,2222.9 808.3,2220.1C809.9,2217.2 811.6,2216.7 814.4,2216.5C817.2,2216.2 822.5,2216.6 825.1,2218.6C827.8,2220.6 828.4,2222.8 830.5,2228.3C832.6,2233.8 835,2243 837.7,2251.7C840.4,2260.4 844,2272.6 846.7,2280.4C849.4,2288.2 851.9,2295.1 853.9,2298.4C855.9,2301.7 856.8,2301.4 858.6,2300.2C860.4,2299 862.2,2295.1 864.7,2291.2C867.2,2287.3 870.5,2281.9 873.7,2276.8C876.8,2271.7 881.4,2266.6 883.7,2260.7C886,2254.7 886.4,2246.9 887.3,2240.9C888.2,2234.9 888.1,2228.9 889.1,2224.7C890.1,2220.5 891.2,2218.4 893.4,2215.7C895.6,2213.1 899.7,2211.3 902.4,2208.6C905.1,2205.9 907.5,2203.2 909.6,2199.6C911.7,2196 913.3,2191.8 915,2187C916.6,2182.2 918.1,2174.9 919.6,2170.8C921.1,2166.8 922.5,2164 924,2162.9C925.4,2161.9 926.8,2162.2 928.3,2164.7C929.8,2167.2 931.4,2171.9 932.9,2178C934.5,2184.1 936.2,2193.3 937.6,2201.4C939,2209.5 940.2,2218.1 941.2,2226.5C942.2,2234.9 942.7,2243.9 943.7,2251.7C944.7,2259.5 945.5,2266.6 947.3,2273.2C949.1,2279.8 951.8,2284.9 954.5,2291.2C957.2,2297.5 960.2,2304.1 963.5,2311C966.8,2317.8 971,2327 974.3,2332.5C977.5,2338 979.9,2342.5 983.2,2344C986.5,2345.5 990.4,2343.1 994,2341.5C997.6,2339.9 1000.9,2337.6 1004.8,2334.3C1008.7,2331 1013.2,2324.9 1017.4,2321.7C1021.6,2318.6 1025.1,2317.1 1029.9,2315.6C1034.7,2314.1 1041.6,2313.2 1046.1,2312.8C1050.6,2312.3 1054.2,2311.9 1056.9,2312.8C1059.6,2313.7 1060.6,2314.3 1062.3,2318.1C1064,2322 1065.4,2331 1066.9,2336.1C1068.4,2341.2 1069.6,2345.7 1071.3,2348.7C1072.9,2351.7 1073.7,2353 1076.6,2354.1C1079.6,2355.1 1086.1,2354.6 1089.2,2355.1C1092.3,2355.7 1093.3,2355.4 1095.2,2357.7C1097.1,2359.9 1098.8,2365.1 1100.6,2368.4C1102.4,2371.7 1104.2,2375.9 1106,2377.4C1107.8,2378.9 1109.3,2378.6 1111.4,2377.4C1113.5,2376.2 1116.5,2372 1118.6,2370.2C1120.7,2368.4 1122.6,2366.6 1124,2366.6C1125.3,2366.6 1126.3,2369.6 1126.8,2370.2L1126.8,2571.4C1127.8,2571.6 1130.1,2572.3 1132.9,2572.2C1135.7,2572 1135.9,2570.8 1143.7,2570.7C1151.5,2570.6 1165.9,2571.4 1179.6,2571.4C1193.4,2571.4 1216.8,2571.4 1226.3,2570.7C1235.9,2570 1233.5,2568.3 1237.1,2567.1C1240.7,2565.9 1244.6,2564.1 1247.9,2563.5C1251.2,2562.9 1253.6,2562.9 1256.9,2563.5C1260.2,2564.1 1264.1,2565.8 1267.7,2567.1C1271.3,2568.4 1274.6,2570.6 1278.4,2571.4C1282.3,2572.3 1286.5,2572.2 1291,2572.2C1295.5,2572.2 1303,2571.6 1305.4,2571.4L1305.4,2315.6C1306.6,2315.4 1309.6,2314.9 1312.6,2314.6C1315.6,2314.3 1320.4,2313.5 1323.4,2313.8C1326.3,2314.1 1327.8,2314.7 1330.5,2316.3C1333.2,2318 1336.8,2321.7 1339.5,2323.5C1342.2,2325.3 1343.4,2326.3 1346.7,2327.1C1350,2327.9 1356.3,2327 1359.3,2328.2C1362.3,2329.4 1362.6,2331.2 1364.7,2334.3C1366.8,2337.4 1369.5,2343.6 1371.9,2346.9C1374.3,2350.2 1376.6,2352.5 1379,2354.1C1381.4,2355.7 1383.5,2356.8 1386.2,2356.6C1388.9,2356.4 1392.2,2354.8 1395.2,2353C1398.2,2351.2 1401.5,2347.8 1404.2,2345.8C1406.9,2343.8 1409,2341.3 1411.4,2340.8C1413.8,2340.2 1416.6,2342.2 1418.6,2342.6C1420.5,2343 1421.7,2344.2 1423.2,2343.3C1424.7,2342.4 1425,2339.9 1427.5,2337.2C1430.1,2334.5 1434.1,2330.9 1438.3,2327.1C1442.5,2323.4 1448.2,2319 1452.7,2314.6C1457.2,2310.1 1461.7,2304 1465.3,2300.2C1468.9,2296.4 1471.6,2293.4 1474.3,2291.9C1476.9,2290.4 1479,2290.1 1481.4,2291.2C1483.8,2292.3 1485.9,2295.1 1488.6,2298.4C1491.3,2301.7 1494.6,2307.7 1497.6,2311C1500.6,2314.3 1503.3,2317.2 1506.6,2318.1C1509.9,2319 1513.2,2317.8 1517.4,2316.3C1521.6,2314.9 1526.9,2311 1531.7,2309.2C1536.5,2307.4 1541.3,2306 1546.1,2305.6C1550.9,2305.1 1556,2306.4 1560.5,2306.3C1565,2306.2 1569.6,2306.5 1573.1,2304.9C1576.5,2303.2 1577.2,2300.7 1580.9,2296.6C1584.6,2292.5 1590.5,2285.8 1595.3,2280.4C1600.1,2275 1605.2,2269.6 1609.7,2264.3C1614.2,2258.9 1618.1,2253.2 1622.3,2248.1C1626.4,2243 1631.2,2238.5 1634.8,2233.7C1638.4,2228.9 1641.4,2224.1 1643.8,2219.3C1646.2,2214.6 1647.6,2208.9 1649.2,2205C1650.8,2201.1 1652,2198.1 1653.5,2196C1655,2193.9 1656.5,2192.4 1658.2,2192.4C1659.9,2192.4 1660.9,2193.4 1663.6,2196C1666.3,2198.6 1670.8,2204 1674.3,2207.8C1677.9,2211.7 1681.8,2216.3 1685.1,2219.3C1688.4,2222.3 1691.4,2224.7 1694.1,2225.8C1696.8,2226.9 1699.5,2227.2 1701.3,2225.8C1703.1,2224.4 1703.4,2222.2 1704.9,2217.5C1706.4,2212.9 1708.5,2204.7 1710.3,2197.8C1712.1,2190.9 1713.9,2182.8 1715.7,2176.2C1717.5,2169.6 1719.3,2163.1 1721.1,2158.3C1722.9,2153.5 1724.3,2149.8 1726.4,2147.5C1728.5,2145.2 1731.2,2144.9 1733.6,2144.6C1736,2144.3 1738.2,2144.9 1740.8,2145.7C1743.4,2146.5 1747.6,2146.6 1749.1,2149.3C1750.6,2152 1749.7,2159.8 1749.8,2161.9L1749.8,2557.1C1751.6,2557.2 1755.2,2557.7 1760.6,2557.8C1766,2557.9 1777,2558.8 1782.1,2557.8C1787.2,2556.8 1788.1,2554.3 1791.1,2551.7C1794.1,2549 1797.4,2545.3 1800.1,2542C1802.8,2538.7 1805.5,2535.7 1807.3,2531.9C1809.1,2528.1 1809.4,2523.2 1810.9,2519.3C1812.4,2515.4 1814.2,2511.3 1816.3,2508.6C1818.4,2505.9 1820.9,2504.7 1823.4,2503.2C1826,2501.7 1828.4,2501.1 1831.7,2499.6C1835,2498.1 1839.2,2496.6 1843.2,2494.2C1847.2,2491.8 1851.9,2488.8 1855.8,2485.2C1859.7,2481.6 1863,2478.6 1866.6,2472.6C1870.2,2466.6 1873.7,2457.7 1877.3,2449.3C1880.9,2440.9 1884.8,2430.7 1888.1,2422.3C1891.4,2414 1894.1,2408.3 1897.1,2399C1900.1,2389.7 1903.1,2376.8 1906.1,2366.6C1909.1,2356.5 1912.4,2346.3 1915.1,2337.9C1917.8,2329.5 1919.6,2322 1922.3,2316.3C1924.9,2310.7 1928.2,2306.5 1931.2,2303.8C1934.2,2301.1 1937.2,2299.9 1940.2,2300.2C1943.2,2300.5 1945.6,2302.6 1949.2,2305.6C1952.8,2308.6 1957.9,2314.3 1961.8,2318.1C1965.7,2322 1969.7,2325.7 1972.6,2328.9C1975.4,2332.1 1977.9,2335.8 1979,2337.2" fill="none" stroke="#f4696c" stroke-width="5" stroke-linejoin="round" stroke-linecap="round"/>
<rect x="308" y="2574.2" width="6.5" height="66.8" fill="#fdf0c8"/>
<rect x="317" y="2574.2" width="61.5" height="66.8" fill="#fff36e"/>
<rect x="381.5" y="2574.2" width="135.3" height="66.8" fill="#f6a855"/>
<rect x="516.8" y="2574.2" width="244.2" height="66.8" fill="#88c96e"/>
<rect x="761" y="2574.2" width="170.8" height="66.8" fill="#00b8e6"/>
<rect x="931.8" y="2574.2" width="160.2" height="66.8" fill="#dedede"/>
<rect x="1092" y="2574.2" width="151.8" height="66.8" fill="#e5644b"/>
<rect x="1243.8" y="2574.2" width="185" height="66.8" fill="#69afb4"/>
<rect x="1428.8" y="2574.2" width="180.6" height="66.8" fill="#cf9d58"/>
<rect x="1609.4" y="2574.2" width="83" height="66.8" fill="#b2e0cd"/>
<rect x="1692.4" y="2574.2" width="137.5" height="66.8" fill="#00a68c"/>
<rect x="1829.9" y="2574.2" width="170.7" height="66.8" fill="#8daa78"/>
<rect x="2000.6" y="2574.2" width="25.4" height="66.8" fill="#fdb95a"/>
<line x1="516.8" y1="2574.2" x2="516.8" y2="2641" stroke="#2a2a2a" stroke-width="1.8"/>
<line x1="761" y1="2574.2" x2="761" y2="2641" stroke="#2a2a2a" stroke-width="1.8"/>
<line x1="931.8" y1="2574.2" x2="931.8" y2="2641" stroke="#2a2a2a" stroke-width="1.8"/>
<line x1="1092" y1="2574.2" x2="1092" y2="2641" stroke="#2a2a2a" stroke-width="1.8"/>
<line x1="1243.8" y1="2574.2" x2="1243.8" y2="2641" stroke="#2a2a2a" stroke-width="1.8"/>
<line x1="1428.8" y1="2574.2" x2="1428.8" y2="2641" stroke="#2a2a2a" stroke-width="1.8"/>
<line x1="1609.4" y1="2574.2" x2="1609.4" y2="2641" stroke="#2a2a2a" stroke-width="1.8"/>
<line x1="1692.4" y1="2574.2" x2="1692.4" y2="2641" stroke="#2a2a2a" stroke-width="1.8"/>
<line x1="1829.9" y1="2574.2" x2="1829.9" y2="2641" stroke="#2a2a2a" stroke-width="1.8"/>
<line x1="2000.6" y1="2574.2" x2="2000.6" y2="2641" stroke="#2a2a2a" stroke-width="1.8"/>
<line x1="315.7" y1="2574.2" x2="315.7" y2="2641" stroke="#111" stroke-width="2.6"/>
<line x1="380" y1="2574.2" x2="380" y2="2641" stroke="#111" stroke-width="3.0"/>
<line x1="306.2" y1="2641" x2="2026.3" y2="2641" stroke="#1a1a1a" stroke-width="2.2"/>
<line x1="287.5" y1="244.5" x2="2027.5" y2="244.5" stroke="#111" stroke-width="2.3"/>
<line x1="276.7" y1="711.7" x2="2027.5" y2="711.7" stroke="#111" stroke-width="2.3"/>
<line x1="276.7" y1="1177" x2="2027.5" y2="1177" stroke="#111" stroke-width="2.3"/>
<line x1="276.7" y1="1177" x2="306.2" y2="1177" stroke="#111" stroke-width="3.2"/>
<line x1="276.7" y1="1641.3" x2="2027.5" y2="1641.3" stroke="#111" stroke-width="2.3"/>
<line x1="276.7" y1="2107" x2="2027.5" y2="2107" stroke="#111" stroke-width="2.3"/>
<line x1="276.7" y1="2574.2" x2="2027.5" y2="2574.2" stroke="#111" stroke-width="2.6"/>
<line x1="306.2" y1="243.5" x2="306.2" y2="2659" stroke="#111" stroke-width="2.4"/>
<line x1="2026.3" y1="243.5" x2="2026.3" y2="2650" stroke="#111" stroke-width="2.4"/>
<line x1="276.7" y1="297.9" x2="306.2" y2="297.9" stroke="#111" stroke-width="2"/>
<line x1="289" y1="315.9" x2="306.2" y2="315.9" stroke="#111" stroke-width="2"/>
<line x1="289" y1="333.8" x2="306.2" y2="333.8" stroke="#111" stroke-width="2"/>
<line x1="289" y1="351.8" x2="306.2" y2="351.8" stroke="#111" stroke-width="2"/>
<line x1="289" y1="369.7" x2="306.2" y2="369.7" stroke="#111" stroke-width="2"/>
<line x1="276.7" y1="387.7" x2="306.2" y2="387.7" stroke="#111" stroke-width="2"/>
<line x1="289" y1="405.7" x2="306.2" y2="405.7" stroke="#111" stroke-width="2"/>
<line x1="289" y1="423.6" x2="306.2" y2="423.6" stroke="#111" stroke-width="2"/>
<line x1="289" y1="441.6" x2="306.2" y2="441.6" stroke="#111" stroke-width="2"/>
<line x1="289" y1="459.5" x2="306.2" y2="459.5" stroke="#111" stroke-width="2"/>
<line x1="276.7" y1="477.5" x2="306.2" y2="477.5" stroke="#111" stroke-width="2"/>
<line x1="289" y1="495.5" x2="306.2" y2="495.5" stroke="#111" stroke-width="2"/>
<line x1="289" y1="513.4" x2="306.2" y2="513.4" stroke="#111" stroke-width="2"/>
<line x1="289" y1="531.4" x2="306.2" y2="531.4" stroke="#111" stroke-width="2"/>
<line x1="289" y1="549.3" x2="306.2" y2="549.3" stroke="#111" stroke-width="2"/>
<line x1="276.7" y1="567.3" x2="306.2" y2="567.3" stroke="#111" stroke-width="2"/>
<line x1="289" y1="585.3" x2="306.2" y2="585.3" stroke="#111" stroke-width="2"/>
<line x1="289" y1="603.2" x2="306.2" y2="603.2" stroke="#111" stroke-width="2"/>
<line x1="289" y1="621.2" x2="306.2" y2="621.2" stroke="#111" stroke-width="2"/>
<line x1="289" y1="639.1" x2="306.2" y2="639.1" stroke="#111" stroke-width="2"/>
<line x1="276.7" y1="657.1" x2="306.2" y2="657.1" stroke="#111" stroke-width="2"/>
<line x1="289" y1="675.1" x2="306.2" y2="675.1" stroke="#111" stroke-width="2"/>
<line x1="289" y1="693" x2="306.2" y2="693" stroke="#111" stroke-width="2"/>
<line x1="276.7" y1="1083.7" x2="306.2" y2="1083.7" stroke="#111" stroke-width="2"/>
<line x1="276.7" y1="990.4" x2="306.2" y2="990.4" stroke="#111" stroke-width="2"/>
<line x1="276.7" y1="897.1" x2="306.2" y2="897.1" stroke="#111" stroke-width="2"/>
<line x1="276.7" y1="803.8" x2="306.2" y2="803.8" stroke="#111" stroke-width="2"/>
<line x1="276.7" y1="1549.1" x2="306.2" y2="1549.1" stroke="#111" stroke-width="2"/>
<line x1="276.7" y1="1455.7" x2="306.2" y2="1455.7" stroke="#111" stroke-width="2"/>
<line x1="276.7" y1="1362.3" x2="306.2" y2="1362.3" stroke="#111" stroke-width="2"/>
<line x1="276.7" y1="1268.9" x2="306.2" y2="1268.9" stroke="#111" stroke-width="2"/>
<line x1="276.7" y1="2041.3" x2="306.2" y2="2041.3" stroke="#111" stroke-width="2"/>
<line x1="276.7" y1="1974.8" x2="306.2" y2="1974.8" stroke="#111" stroke-width="2"/>
<line x1="276.7" y1="1908.3" x2="306.2" y2="1908.3" stroke="#111" stroke-width="2"/>
<line x1="276.7" y1="1841.8" x2="306.2" y2="1841.8" stroke="#111" stroke-width="2"/>
<line x1="276.7" y1="1775.3" x2="306.2" y2="1775.3" stroke="#111" stroke-width="2"/>
<line x1="276.7" y1="1708.8" x2="306.2" y2="1708.8" stroke="#111" stroke-width="2"/>
<line x1="289" y1="2527.5" x2="306.2" y2="2527.5" stroke="#111" stroke-width="2"/>
<line x1="289" y1="2480.8" x2="306.2" y2="2480.8" stroke="#111" stroke-width="2"/>
<line x1="289" y1="2434.1" x2="306.2" y2="2434.1" stroke="#111" stroke-width="2"/>
<line x1="289" y1="2387.4" x2="306.2" y2="2387.4" stroke="#111" stroke-width="2"/>
<line x1="276.7" y1="2340.7" x2="306.2" y2="2340.7" stroke="#111" stroke-width="2"/>
<line x1="289" y1="2294" x2="306.2" y2="2294" stroke="#111" stroke-width="2"/>
<line x1="289" y1="2247.3" x2="306.2" y2="2247.3" stroke="#111" stroke-width="2"/>
<line x1="289" y1="2200.6" x2="306.2" y2="2200.6" stroke="#111" stroke-width="2"/>
<line x1="289" y1="2153.9" x2="306.2" y2="2153.9" stroke="#111" stroke-width="2"/>
<line x1="306.2" y1="2641" x2="306.2" y2="2659.6" stroke="#111" stroke-width="3.6"/>
<line x1="462.6" y1="2641" x2="462.6" y2="2650" stroke="#111" stroke-width="3.4"/>
<line x1="619" y1="2641" x2="619" y2="2659.6" stroke="#111" stroke-width="3.6"/>
<line x1="775.4" y1="2641" x2="775.4" y2="2650" stroke="#111" stroke-width="3.4"/>
<line x1="931.8" y1="2641" x2="931.8" y2="2659.6" stroke="#111" stroke-width="3.6"/>
<line x1="1088.2" y1="2641" x2="1088.2" y2="2650" stroke="#111" stroke-width="3.4"/>
<line x1="1244.6" y1="2641" x2="1244.6" y2="2659.6" stroke="#111" stroke-width="3.6"/>
<line x1="1401" y1="2641" x2="1401" y2="2650" stroke="#111" stroke-width="3.4"/>
<line x1="1557.4" y1="2641" x2="1557.4" y2="2659.6" stroke="#111" stroke-width="3.6"/>
<line x1="1713.8" y1="2641" x2="1713.8" y2="2650" stroke="#111" stroke-width="3.4"/>
<line x1="1871.9" y1="2641" x2="1871.9" y2="2659.6" stroke="#111" stroke-width="3.6"/>
<line x1="2026.6" y1="2641" x2="2026.6" y2="2650" stroke="#111" stroke-width="3.4"/>
<text x="518.58" y="30.7" font-size="42.4" fill="#e0222a" letter-spacing="2.41">Cretaceous</text>
<text x="454.05" y="77.9" font-size="42.4" fill="#e0222a" letter-spacing="1.96">superplume event</text>
<text x="1648.40" y="31.2" font-size="42.4" fill="#e0222a" letter-spacing="2.57">Ordovician</text>
<text x="1559.35" y="78.7" font-size="42.4" fill="#e0222a" letter-spacing="1.75">superplume event ?</text>
<text x="9.32" y="171.9" font-size="42.4" fill="#000" letter-spacing="2.36">Supercontinent</text>
<text x="113.85" y="228.3" font-size="42.4" fill="#000" letter-spacing="2.73">cycle</text>
<text x="456.90" y="196.7" font-size="42.4" fill="#000" letter-spacing="2.67">Breakup</text>
<text x="931.80" y="153" font-size="42.4" fill="#000" letter-spacing="2.4">Pangea</text>
<text x="852.23" y="197.9" font-size="42.4" fill="#000" letter-spacing="2.37">Supercontinent</text>
<text x="1367.47" y="196.9" font-size="42.4" fill="#000" letter-spacing="2.17">Assembly</text>
<text x="1667.30" y="196.5" font-size="42.4" fill="#000" letter-spacing="2.77">Breakup</text>
<text x="1888.67" y="165.8" font-size="42.4" fill="#000" letter-spacing="2.61">Gond-</text>
<text x="1896.80" y="197.5" font-size="42.4" fill="#000" letter-spacing="1.14">wana</text>
<text transform="translate(1.12,101.1) scale(0.94,1)" font-size="59" fill="#000">F</text>
<text transform="translate(0.02,493.5) scale(0.94,1)" font-size="59" fill="#000">E</text>
<text transform="translate(-1.18,959.6) scale(0.94,1)" font-size="59" fill="#000">D</text>
<text transform="translate(-0.82,1425.6) scale(0.94,1)" font-size="59" fill="#000">C</text>
<text transform="translate(-0.78,1888.8) scale(0.94,1)" font-size="59" fill="#000">B</text>
<text transform="translate(0.88,2356) scale(0.94,1)" font-size="59" fill="#000">A</text>
<path d="M519.6,139.3 C519.6,126.7 525,120.4 543,120.4 L616.1,120.4 C630.8,120.4 637.3,112.8 638.5,103.6 C639.7,112.8 646.2,120.4 660.9,120.4 L734,120.4 C752,120.4 757.4,126.7 757.4,139.3" fill="none" stroke="#3a3433" stroke-width="6.2" stroke-linejoin="bevel"/>
<path d="M1693.6,138.8 C1693.6,122.4 1696.9,118.6 1707.9,118.6 L1745.7,118.6 C1755.1,118.6 1758.9,111.9 1760.1,103.8 C1761.3,111.9 1765,118.6 1774.5,118.6 L1812.3,118.6 C1823.3,118.6 1826.6,122.4 1826.6,138.8" fill="none" stroke="#3a3433" stroke-width="3.8" stroke-linejoin="bevel"/>
<path d="M344.5,202.9 L315.9,220.9 L344.5,238.9" fill="none" stroke="#ff14f0" stroke-width="6.2" stroke-linejoin="miter" stroke-linecap="butt"/>
<line x1="315.9" y1="220.9" x2="325.6" y2="220.9" stroke="#ff14f0" stroke-width="6.1" stroke-linecap="round"/>
<line x1="343.4" y1="220.9" x2="775" y2="220.9" stroke="#ff14f0" stroke-width="6.1" stroke-linecap="round" stroke-dasharray="4.5 16.67"/>
<line x1="791.2" y1="220.5" x2="1245.8" y2="220.5" stroke="#ff14f0" stroke-width="11.6" stroke-linecap="round"/>
<path d="M1295.8,202.9 L1268,220.9 L1295.8,238.9" fill="none" stroke="#ff14f0" stroke-width="7.0" stroke-linejoin="miter" stroke-linecap="butt"/>
<line x1="1274.6" y1="220.9" x2="1658.2" y2="220.9" stroke="#ff14f0" stroke-width="7" stroke-linecap="round" stroke-dasharray="24.4 17.8"/>
<path d="M1701.5,202.9 L1673.3,220.9 L1701.5,238.9" fill="none" stroke="#ff14f0" stroke-width="6.6" stroke-linejoin="miter" stroke-linecap="butt"/>
<line x1="1673.3" y1="220.9" x2="1683.1" y2="220.9" stroke="#ff14f0" stroke-width="6.1" stroke-linecap="round"/>
<line x1="1699.8" y1="220.9" x2="1862" y2="220.9" stroke="#ff14f0" stroke-width="6.1" stroke-linecap="round" stroke-dasharray="4.5 16.67"/>
<line x1="1873.4" y1="220.5" x2="2025" y2="220.5" stroke="#ff14f0" stroke-width="11.6" stroke-linecap="round"/>
<text x="136.22" y="310.5" font-size="35.2" fill="#000" letter-spacing="2.09">0. 7090</text>
<text x="136.22" y="400.3" font-size="35.2" fill="#000" letter-spacing="2.11">0. 7085</text>
<text x="136.22" y="490.1" font-size="35.2" fill="#000" letter-spacing="2.09">0. 7080</text>
<text x="136.22" y="579.9" font-size="35.2" fill="#000" letter-spacing="2.11">0. 7075</text>
<text x="136.22" y="669.7" font-size="35.2" fill="#000" letter-spacing="2.09">0. 7070</text>
<text x="246.18" y="1096.3" font-size="35.2" fill="#000" letter-spacing="2.0">5</text>
<text x="231.12" y="1003" font-size="35.2" fill="#000" letter-spacing="2.0">10</text>
<text x="228.15" y="909.7" font-size="35.2" fill="#000" letter-spacing="2.0">15</text>
<text x="229.62" y="816.4" font-size="35.2" fill="#000" letter-spacing="2.0">20</text>
<text x="241.73" y="1561.7" font-size="35.2" fill="#000" letter-spacing="2.0">2</text>
<text x="240.98" y="1468.3" font-size="35.2" fill="#000" letter-spacing="2.0">4</text>
<text x="241.48" y="1374.9" font-size="35.2" fill="#000" letter-spacing="2.0">6</text>
<text x="241.48" y="1281.5" font-size="35.2" fill="#000" letter-spacing="2.0">8</text>
<text x="242.62" y="2053.9" font-size="35.2" fill="#000" letter-spacing="2.0">2</text>
<text x="241.88" y="1987.4" font-size="35.2" fill="#000" letter-spacing="2.0">4</text>
<text x="242.38" y="1920.9" font-size="35.2" fill="#000" letter-spacing="2.0">6</text>
<text x="242.38" y="1854.4" font-size="35.2" fill="#000" letter-spacing="2.0">8</text>
<text x="230.12" y="1787.9" font-size="35.2" fill="#000" letter-spacing="2.0">10</text>
<text x="230.50" y="1721.4" font-size="35.2" fill="#000" letter-spacing="2.0">12</text>
<text x="245.88" y="2353.3" font-size="35.2" fill="#000" letter-spacing="2.0">5</text>
<text x="246.25" y="2586.8" font-size="35.2" fill="#000" letter-spacing="2.0">0</text>
<text transform="translate(118.9,662.17) rotate(-90)" font-size="42.4" fill="#000" letter-spacing="2.29">Seawater</text>
<text transform="translate(97.1,456.00) rotate(-90)" font-size="22" fill="#000" letter-spacing="0.73">87</text>
<text transform="translate(118.8,428.77) rotate(-90)" font-size="42.4" fill="#000" letter-spacing="1.22">Sr/</text>
<text transform="translate(97.1,366.90) rotate(-90)" font-size="22" fill="#000" letter-spacing="1.0">86</text>
<text transform="translate(118.8,339.27) rotate(-90)" font-size="42.4" fill="#000" letter-spacing="3.15">Sr</text>
<text transform="translate(118.6,933.6) rotate(-90)" font-size="42.4" text-anchor="middle" fill="#000" letter-spacing="1.6">Number of</text>
<text transform="translate(167,940.7) rotate(-90)" font-size="42.4" text-anchor="middle" fill="#000" letter-spacing="1.6">major ophiolite</text>
<text transform="translate(124,1405) rotate(-90)" font-size="42.4" text-anchor="middle" fill="#000" letter-spacing="1.6">Volume of</text>
<text transform="translate(170.7,1412) rotate(-90)" font-size="42.4" text-anchor="middle" fill="#000" letter-spacing="1.6">volcanic rocks</text>
<text transform="translate(217.4,1405) rotate(-90)" font-size="42.4" text-anchor="middle" fill="#000" letter-spacing="1.6">(Mkm<tspan font-size="21" dy="-17" letter-spacing="-0.5">3</tspan><tspan dy="17">)</tspan></text>
<text transform="translate(118.6,1870.7) rotate(-90)" font-size="42.4" text-anchor="middle" fill="#000" letter-spacing="1.6">LIP size</text>
<text transform="translate(166,1870) rotate(-90)" font-size="42.4" text-anchor="middle" fill="#000" letter-spacing="1.6">(Mkm<tspan font-size="21" dy="-17" letter-spacing="-0.5">3</tspan><tspan dy="17">)</tspan></text>
<text transform="translate(119.7,2341.5) rotate(-90)" font-size="42.4" text-anchor="middle" fill="#000" letter-spacing="1.6">Polarity Ratio</text>
<text transform="translate(166.4,2334) rotate(-90)" font-size="42.4" text-anchor="middle" fill="#000" letter-spacing="1.6">(%NP)</text>
<text transform="translate(332.4,2081.62) rotate(-90)" font-size="28.9" fill="#333" letter-spacing="1.23">Yellowstone-</text>
<text transform="translate(363.6,2080.70) rotate(-90)" font-size="28.9" fill="#333" letter-spacing="0.84">Colubia River</text>
<text transform="translate(409.6,2024.62) rotate(-90)" font-size="28.9" fill="#333" letter-spacing="1.12">Afro-Arabian</text>
<text transform="translate(503,2042.67) rotate(-90)" font-size="28.9" fill="#333" letter-spacing="1.14">North Atlantic</text>
<text transform="translate(535.4,2040.17) rotate(-90)" font-size="28.9" fill="#333" letter-spacing="1.15">Deccan</text>
<text transform="translate(686.8,2092.38) rotate(-90)" font-size="28.9" fill="#333" letter-spacing="1.07">High Arctic</text>
<text transform="translate(739,1902.58) rotate(-90)" font-size="28.9" fill="#333" letter-spacing="1.16">Parana-Etendeka</text>
<text transform="translate(891.7,1978.08) rotate(-90)" font-size="28.9" fill="#333" letter-spacing="1.38">Karoo-Ferrar</text>
<text transform="translate(946.6,1972.90) rotate(-90)" font-size="28.9" fill="#333" letter-spacing="1.06">Central Atlantic</text>
<text transform="translate(1105.3,1982.78) rotate(-90)" font-size="28.9" fill="#333" letter-spacing="1.07">Siberian Traps</text>
<text transform="translate(1136.9,1983.78) rotate(-90)" font-size="28.9" fill="#333" letter-spacing="1.55">Emeishan</text>
<text transform="translate(1153.8,2047.42) rotate(-90)" font-size="28.9" fill="#333" letter-spacing="1.4">Tarim</text>
<text transform="translate(1260.5,2067.28) rotate(-90)" font-size="28.9" fill="#333" letter-spacing="1.16">Scagerrak</text>
<text transform="translate(1454.5,1964.78) rotate(-90)" font-size="28.9" fill="#333" letter-spacing="1.38">Kola-Dnieper</text>
<text transform="translate(1485.8,1963.03) rotate(-90)" font-size="28.9" fill="#333" letter-spacing="1.29">Yakutsk-Vilui</text>
<text transform="translate(1735.5,2076.72) rotate(-90)" font-size="28.9" fill="#333" letter-spacing="1.05">Alborz</text>
<text transform="translate(1808.4,2015.78) rotate(-90)" font-size="28.9" fill="#333" letter-spacing="1.37">Pinghe</text>
<text transform="translate(1906.1,1982.67) rotate(-90)" font-size="28.9" fill="#333" letter-spacing="1.48">Kalkarindji</text>
<text x="1230.42" y="1687.5" font-size="28.1" fill="#333" letter-spacing="1.48">Continental LIP</text>
<text x="1230.55" y="1725.2" font-size="28.1" fill="#333" letter-spacing="1.44">Siliceous LIP</text>
<text x="1231.12" y="1763" font-size="28.1" fill="#333" letter-spacing="1.49">Oceanic LIP</text>
<text x="568.73" y="2380" font-size="28.1" fill="#000" letter-spacing="1.74">Cretaceous</text>
<text x="567.85" y="2411.5" font-size="28.1" fill="#000" letter-spacing="2.1">Normal</text>
<text x="567.85" y="2443" font-size="28.1" fill="#000" letter-spacing="1.71">Polarity</text>
<text x="568.85" y="2474.5" font-size="28.1" fill="#000" letter-spacing="1.75">Superchron</text>
<text x="1135.35" y="2445.6" font-size="28.1" fill="#000" letter-spacing="2.01">Kiaman</text>
<text x="1135.35" y="2477.2" font-size="28.1" fill="#000" letter-spacing="1.8">Reversed</text>
<text x="1135.35" y="2508.8" font-size="28.1" fill="#000" letter-spacing="1.66">Polarity</text>
<text x="1136.35" y="2540.4" font-size="28.1" fill="#000" letter-spacing="1.71">Superchron</text>
<text x="1763.05" y="2234.3" font-size="28.1" fill="#000" letter-spacing="2.02">Middle</text>
<text x="1763.92" y="2265.8" font-size="28.1" fill="#000" letter-spacing="1.78">Ordovician</text>
<text x="1763.05" y="2297.3" font-size="28.1" fill="#000" letter-spacing="1.66">Polarity</text>
<text x="1764.05" y="2328.8" font-size="28.1" fill="#000" letter-spacing="1.73">Shift</text>
<text transform="translate(529.59,2625.2) scale(0.9,1)" font-size="42.8" fill="#222" letter-spacing="2.96">Cretaceous</text>
<text transform="translate(804.64,2625.2) scale(0.9,1)" font-size="42.8" fill="#222" letter-spacing="1.8">Jura</text>
<text transform="translate(963.10,2625.2) scale(0.9,1)" font-size="42.8" fill="#222" letter-spacing="2.89">Trias</text>
<text transform="translate(1113.05,2625.2) scale(0.9,1)" font-size="42.8" fill="#222" letter-spacing="3.94">Perm</text>
<text transform="translate(1286.09,2625.2) scale(0.9,1)" font-size="42.8" fill="#222" letter-spacing="3.12">Carb</text>
<text transform="translate(1455.15,2625.2) scale(0.9,1)" font-size="42.8" fill="#222" letter-spacing="3.63">Devon</text>
<text transform="translate(1623.30,2625.2) scale(0.9,1)" font-size="42.8" fill="#222" letter-spacing="3.97">Sil</text>
<text transform="translate(1721.30,2625.2) scale(0.9,1)" font-size="42.8" fill="#222" letter-spacing="2.81">Ord</text>
<text transform="translate(1859.09,2625.2) scale(0.9,1)" font-size="42.8" fill="#222" letter-spacing="3.29">Camb</text>
<text transform="translate(317.09,2596) scale(1.3,1)" font-size="19.5" fill="#222" letter-spacing="1.31">Neo-</text>
<text transform="translate(318.22,2617.2) scale(1.3,1)" font-size="19.5" fill="#222" letter-spacing="0.85">gene</text>
<g clip-path="url(#tsclip)">
<text x="381.60" y="2609.4" font-size="25" fill="#222" letter-spacing="1.54">Paleogene</text>
<text x="329.15" y="2637.8" font-size="26" fill="#222" letter-spacing="0.9">Quaternary</text>
</g>
<path d="M310.2,2619.9 L315.4,2634.6 L318.9,2631.2 L327.9,2639.9 L330.5,2637.3 L321.5,2628.6 L324.9,2625.3 Z" fill="#111"/>
<text transform="translate(297.30,2708.2) scale(1.26,1)" font-size="45" fill="#000" stroke="#000" stroke-width="0.15" letter-spacing="0">0</text>
<text transform="translate(567.55,2708.2) scale(1.26,1)" font-size="45" fill="#000" stroke="#000" stroke-width="0.15" letter-spacing="1.85">100</text>
<text transform="translate(883.37,2708.2) scale(1.26,1)" font-size="45" fill="#000" stroke="#000" stroke-width="0.15" letter-spacing="2.16">200</text>
<text transform="translate(1195.10,2708.2) scale(1.26,1)" font-size="45" fill="#000" stroke="#000" stroke-width="0.15" letter-spacing="2.03">300</text>
<text transform="translate(1509.24,2708.2) scale(1.26,1)" font-size="45" fill="#000" stroke="#000" stroke-width="0.15" letter-spacing="2.29">400</text>
<text transform="translate(1822.50,2708.2) scale(1.26,1)" font-size="45" fill="#000" stroke="#000" stroke-width="0.15" letter-spacing="1.87">500</text>
<text transform="translate(1927.94,2708.2) scale(1.26,1)" font-size="45" fill="#000" stroke="#000" stroke-width="0.15" letter-spacing="1.93">(Ma)</text>
</svg>
</body>
</html>
